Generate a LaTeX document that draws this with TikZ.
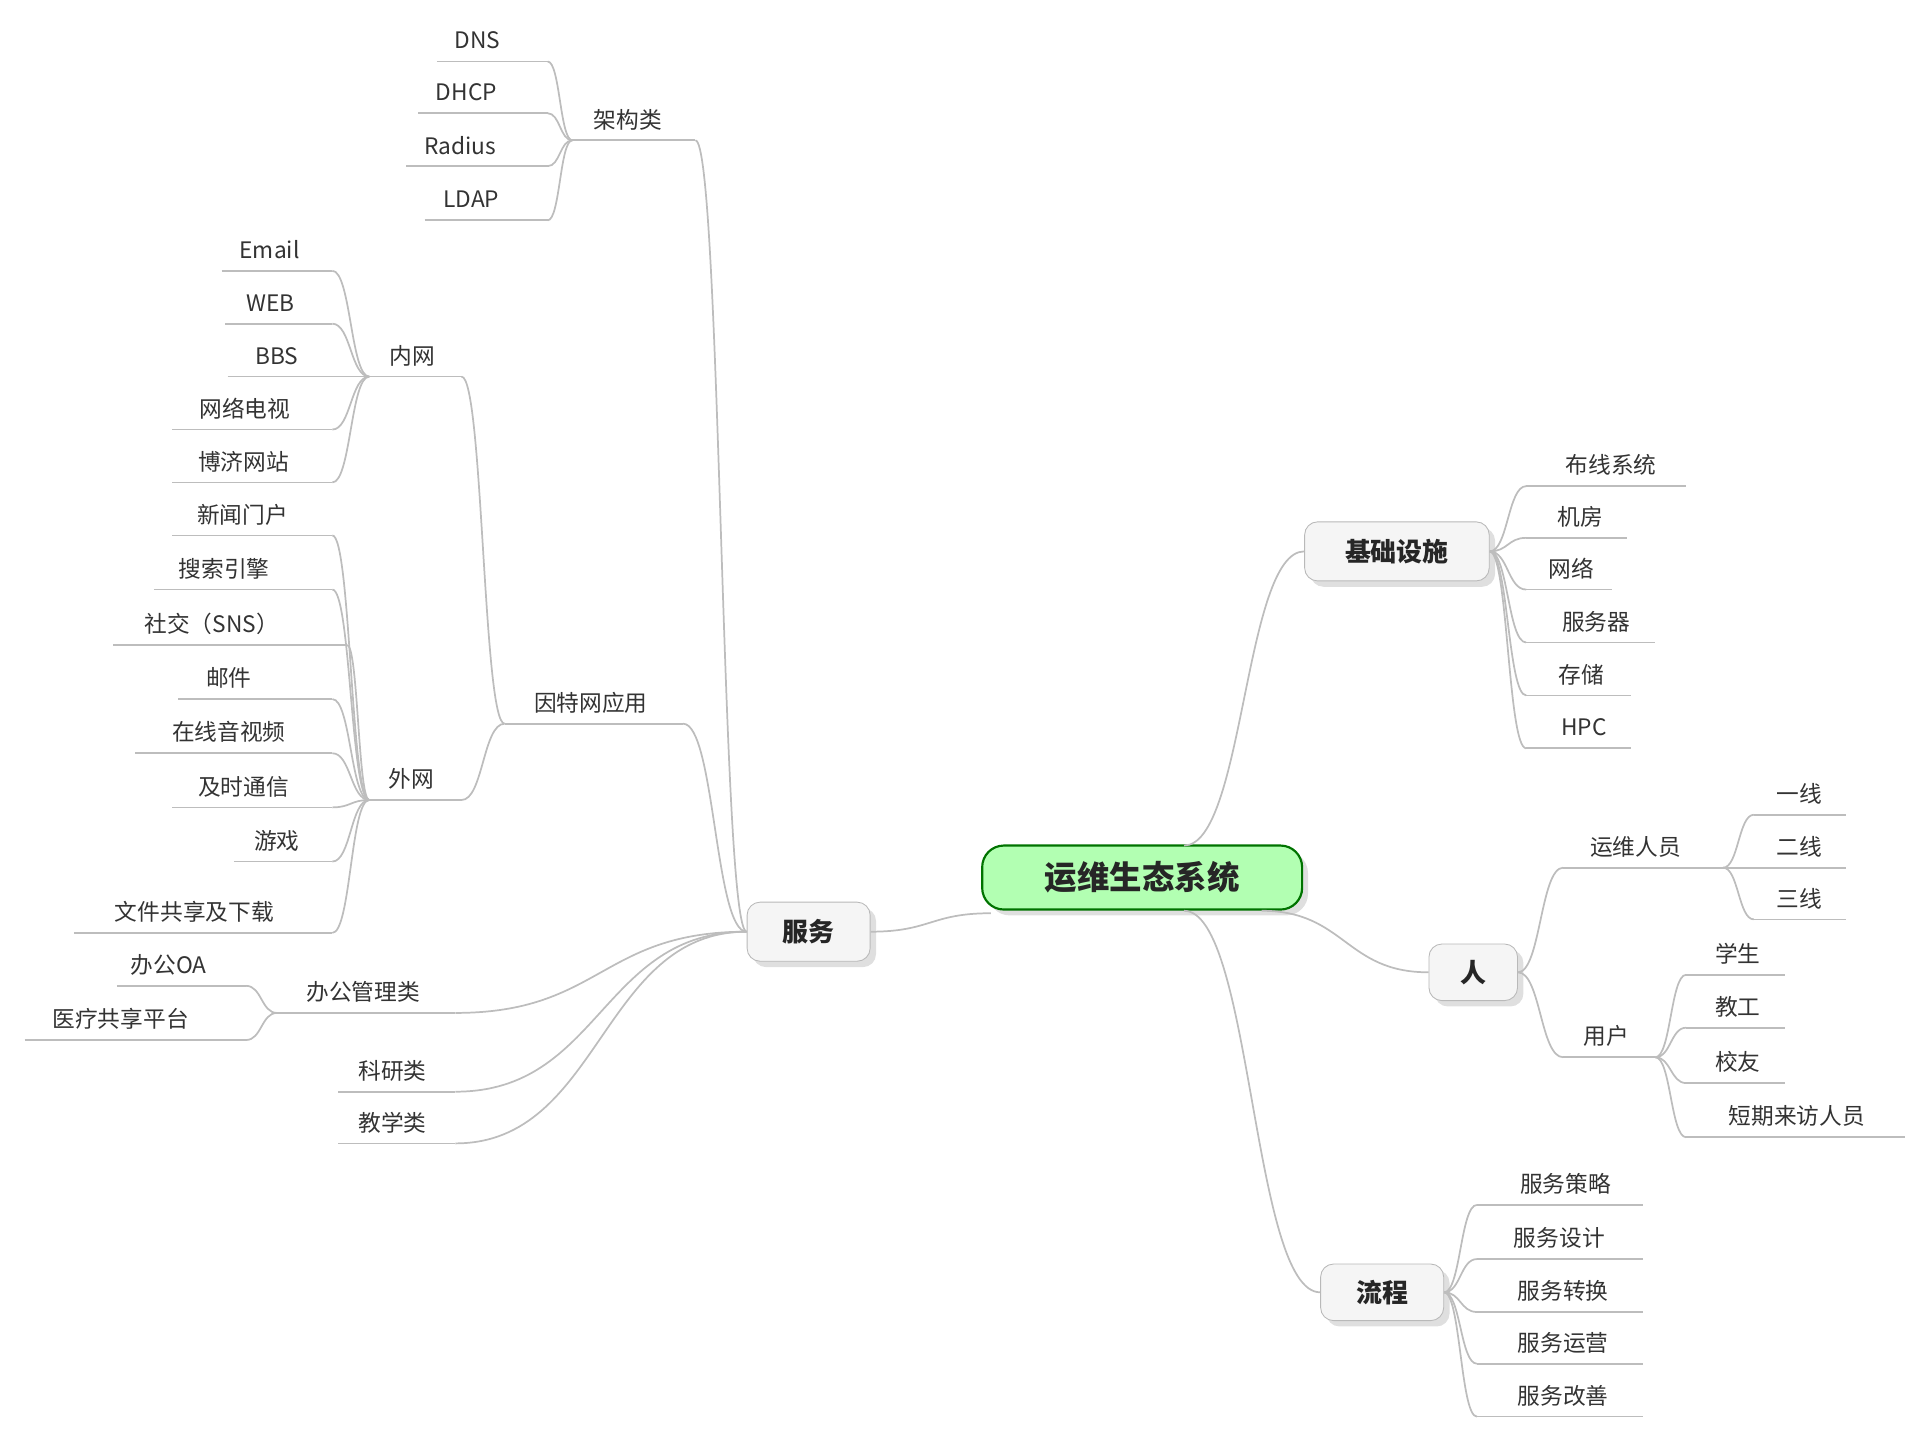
\documentclass[tikz,border=0pt]{standalone}
\usepackage{fontspec}
\setmainfont{Noto Sans CJK SC}
\usetikzlibrary{shadows,calc}
\definecolor{tx}{HTML}{333333}
\definecolor{ln}{HTML}{BDBDBD}
\tikzset{
 leaftext/.style={text=tx,font=\fontsize{10.5}{12}\selectfont,inner sep=0pt},
 uline/.style={draw=ln,line width=0.8pt},
 conn/.style={draw=ln,line width=0.8pt},
 boxnode/.style={draw=gray!55,fill=gray!8,rounded corners=6pt,font=\fontsize{12}{14}\selectfont\bfseries,text=black!85,drop shadow={opacity=0.25}},
 rootnode/.style={draw=green!45!black,fill=green!30,rounded corners=10pt,line width=1pt,font=\fontsize{15}{18}\selectfont\bfseries,text=black!85,drop shadow={opacity=0.25}}
}
\newcommand\leaf[6]{%
 \node[leaftext] (#1) at (#2,#3) {#6};
 \coordinate (#1L) at (#4,{#3+17});
 \coordinate (#1R) at (#5,{#3+17});
 \draw[uline] (#1L) -- (#1R);}
\newcommand\cn[2]{\draw[conn] let \p1=(#1),\p2=(#2) in (\p1) .. controls ({(\x1+\x2)/2},\y1) and ({(\x1+\x2)/2},\y2) .. (\p2);}
\begin{document}
\begin{tikzpicture}[x=0.02cm,y=-0.02cm]
\useasboundingbox (0,0) rectangle (1560,1170);
% boxes
\node[rootnode,minimum width=5.2cm,minimum height=1.04cm] (root) at (928,713) {运维生态系统};
\node[boxnode,minimum width=2cm,minimum height=0.96cm] (fw) at (657,757) {服务};
\node[boxnode,minimum width=3cm,minimum height=0.96cm] (jc) at (1135,448) {基础设施};
\node[boxnode,minimum width=1.44cm,minimum height=0.92cm] (ren) at (1197,790) {人};
\node[boxnode,minimum width=2cm,minimum height=0.92cm] (lc) at (1123,1050) {流程};
\coordinate (rW) at (805,742);
\coordinate (rN) at (962,687);
\coordinate (rE) at (1025,740);
\coordinate (rS) at (962,740);
\cn{fw.east}{rW}
\cn{rN}{jc.west}
\cn{rE}{ren.west}
\cn{rS}{lc.west}
% service left
\leaf{jg}{510}{97}{465}{565}{架构类}
\leaf{dns}{388}{33}{355}{445}{DNS}
\leaf{dhcp}{379}{75}{340}{445}{DHCP}
\leaf{rad}{374}{118}{330}{445}{Radius}
\leaf{ldap}{383}{162}{345}{445}{LDAP}
\cn{dnsR}{jgL}\cn{dhcpR}{jgL}\cn{radR}{jgL}\cn{ldapR}{jgL}
\leaf{yt}{480}{571}{410}{555}{因特网应用}
\leaf{nw}{335}{289}{300}{375}{内网}
\leaf{em}{219}{203}{180}{270}{Email}
\leaf{web}{220}{246}{183}{270}{WEB}
\leaf{bbs}{225}{289}{185}{270}{BBS}
\leaf{wl}{199}{332}{140}{270}{网络电视}
\leaf{bj}{198}{375}{140}{270}{博济网站}
\cn{emR}{nwL}\cn{webR}{nwL}\cn{bbsR}{nwL}\cn{wlR}{nwL}\cn{bjR}{nwL}
\leaf{ww}{334}{633}{300}{375}{外网}
\leaf{xw}{197}{418}{140}{270}{新闻门户}
\leaf{ss}{182}{462}{125}{270}{搜索引擎}
\leaf{sj}{172}{507}{92}{282}{社交（SNS）}
\leaf{yj}{186}{551}{145}{270}{邮件}
\leaf{zx}{186}{595}{110}{270}{在线音视频}
\leaf{js}{198}{639}{140}{270}{及时通信}
\leaf{yx}{225}{683}{190}{270}{游戏}
\leaf{wj}{158}{741}{60}{270}{文件共享及下载}
\cn{xwR}{wwL}\cn{ssR}{wwL}\cn{sjR}{wwL}\cn{yjR}{wwL}\cn{zxR}{wwL}\cn{jsR}{wwL}\cn{yxR}{wwL}\cn{wjR}{wwL}
\cn{nwR}{ytL}\cn{wwR}{ytL}
\leaf{bg}{295}{806}{225}{370}{办公管理类}
\leaf{oa}{137}{784}{95}{200}{办公OA}
\leaf{yl}{98}{828}{20}{200}{医疗共享平台}
\cn{oaR}{bgL}\cn{ylR}{bgL}
\leaf{ky}{319}{870}{275}{370}{科研类}
\leaf{jx}{319}{912}{275}{370}{教学类}
\cn{jgR}{fw.west}\cn{ytR}{fw.west}\cn{bgR}{fw.west}\cn{kyR}{fw.west}\cn{jxR}{fw.west}
% infrastructure
\leaf{bx}{1309}{378}{1240}{1370}{布线系统}
\leaf{jf}{1284}{420}{1240}{1322}{机房}
\leaf{wlo}{1277}{462}{1240}{1310}{网络}
\leaf{fwq}{1297}{505}{1240}{1345}{服务器}
\leaf{cc}{1285}{548}{1240}{1325}{存储}
\leaf{hpc}{1287}{591}{1240}{1325}{HPC}
\cn{jc.east}{bxL}\cn{jc.east}{jfL}\cn{jc.east}{wloL}\cn{jc.east}{fwqL}\cn{jc.east}{ccL}\cn{jc.east}{hpcL}
% people
\leaf{yw}{1329}{688}{1270}{1400}{运维人员}
\leaf{yh}{1305}{842}{1270}{1345}{用户}
\cn{ren.east}{ywL}\cn{ren.east}{yhL}
\leaf{y1}{1462}{645}{1425}{1500}{一线}
\leaf{y2}{1462}{688}{1425}{1500}{二线}
\leaf{y3}{1462}{730}{1425}{1500}{三线}
\cn{ywR}{y1L}\cn{ywR}{y2L}\cn{ywR}{y3L}
\leaf{xs}{1412}{775}{1370}{1450}{学生}
\leaf{jg2}{1412}{818}{1370}{1450}{教工}
\leaf{xy}{1412}{863}{1370}{1450}{校友}
\leaf{dq}{1460}{907}{1370}{1548}{短期来访人员}
\cn{yhR}{xsL}\cn{yhR}{jg2L}\cn{yhR}{xyL}\cn{yhR}{dqL}
% process
\leaf{p1}{1272}{962}{1200}{1335}{服务策略}
\leaf{p2}{1267}{1006}{1200}{1335}{服务设计}
\leaf{p3}{1270}{1049}{1200}{1335}{服务转换}
\leaf{p4}{1270}{1091}{1200}{1335}{服务运营}
\leaf{p5}{1270}{1134}{1200}{1335}{服务改善}
\cn{lc.east}{p1L}\cn{lc.east}{p2L}\cn{lc.east}{p3L}\cn{lc.east}{p4L}\cn{lc.east}{p5L}
\end{tikzpicture}
\end{document}
